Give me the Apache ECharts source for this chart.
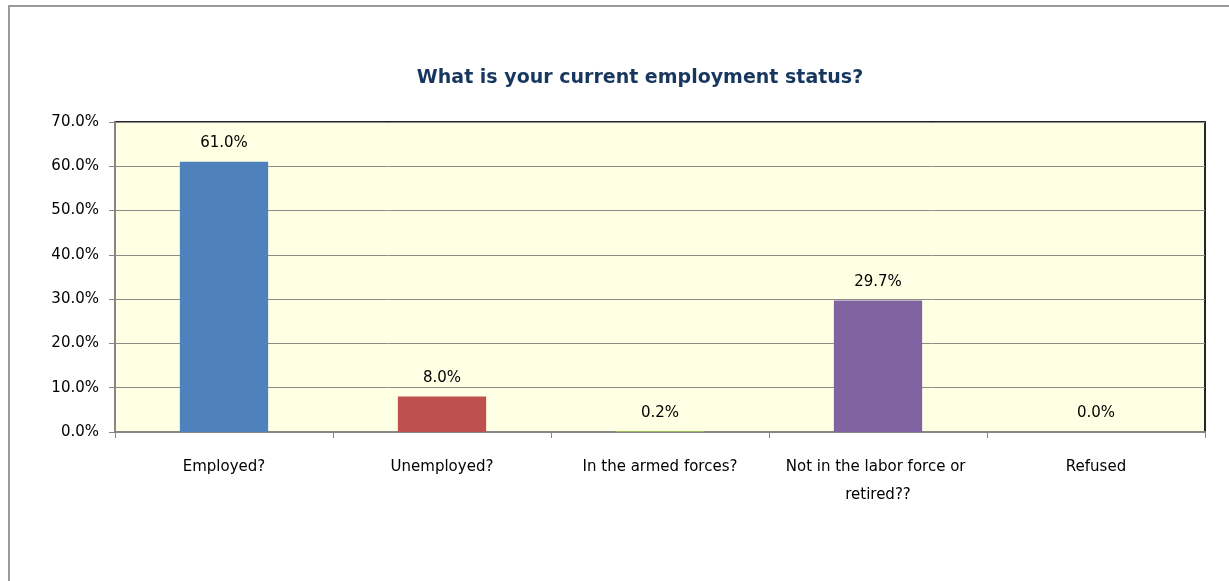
<!DOCTYPE html>
<html>
<head>
<meta charset="utf-8">
<script src="https://cdn.jsdelivr.net/npm/echarts@6/dist/echarts.min.js"></script>
<style>
  html, body { margin: 0; padding: 0; background: #ffffff; }
  #chart { width: 1229px; height: 581px; }
</style>
</head>
<body>
<div id="chart"></div>
<script>
// Survey answers and their shares (percent)
const categories = ['Employed?', 'Unemployed?', 'In the armed forces?', 'Not in the labor force or retired??', 'Refused'];
const shares = [61.0, 8.0, 0.2, 29.7, 0.0];
const barColors = ['#4F81BD', '#C0504D', '#9BBB59', '#8064A2', '#F79646'];
const yTicks = [0, 10, 20, 30, 40, 50, 60, 70];

const FONT = '"DejaVu Sans", "Open Sans", sans-serif';
const chart = echarts.init(document.getElementById('chart'), null, { renderer: 'canvas' });

chart.setOption({
  animation: false,
  backgroundColor: '#ffffff',
  title: {
    text: 'What is your current employment status?',
    left: 640,
    top: 64,
    textAlign: 'center',
    textStyle: { fontFamily: FONT, fontSize: 19, fontWeight: 'bold', color: '#17375E' }
  },
  graphic: [{
    type: 'rect',
    shape: { x: 9, y: 6, width: 1400, height: 800 },
    style: { fill: 'none', stroke: '#9a9a9a', lineWidth: 2 },
    silent: true
  }],
  grid: {
    left: 115, right: 24, top: 122, bottom: 149,
    show: true,
    backgroundColor: '#FFFFE3',
    borderColor: '#262626',
    borderWidth: 2
  },
  xAxis: {
    type: 'category',
    data: categories,
    axisLine: { lineStyle: { color: '#868686', width: 2 } },
    axisTick: { show: true, alignWithLabel: false, length: 6, lineStyle: { color: '#868686' } },
    axisLabel: {
      fontFamily: FONT, fontSize: 15, color: '#000000', margin: 21,
      lineHeight: 28, width: 212, overflow: 'break', interval: 0
    }
  },
  yAxis: {
    type: 'value',
    min: yTicks[0],
    max: yTicks[yTicks.length - 1],
    interval: 10,
    axisLine: { show: true, lineStyle: { color: '#868686', width: 2 } },
    axisTick: { show: true, length: 6, lineStyle: { color: '#868686' } },
    splitLine: { lineStyle: { color: '#8c8c8c', width: 1 } },
    axisLabel: {
      fontFamily: FONT, fontSize: 15, color: '#000000', margin: 16,
      formatter: v => v.toFixed(1) + '%'
    }
  },
  series: [{
    type: 'bar',
    data: shares.map((v, i) => ({ value: v, itemStyle: { color: barColors[i] } })),
    barWidth: '40.5%',
    label: {
      show: true,
      position: 'top',
      distance: 11,
      fontFamily: FONT, fontSize: 15, color: '#000000',
      formatter: p => p.value.toFixed(1) + '%'
    }
  }]
});
chart.setOption({ title: { left: 635 } });
</script>
</body>
</html>
